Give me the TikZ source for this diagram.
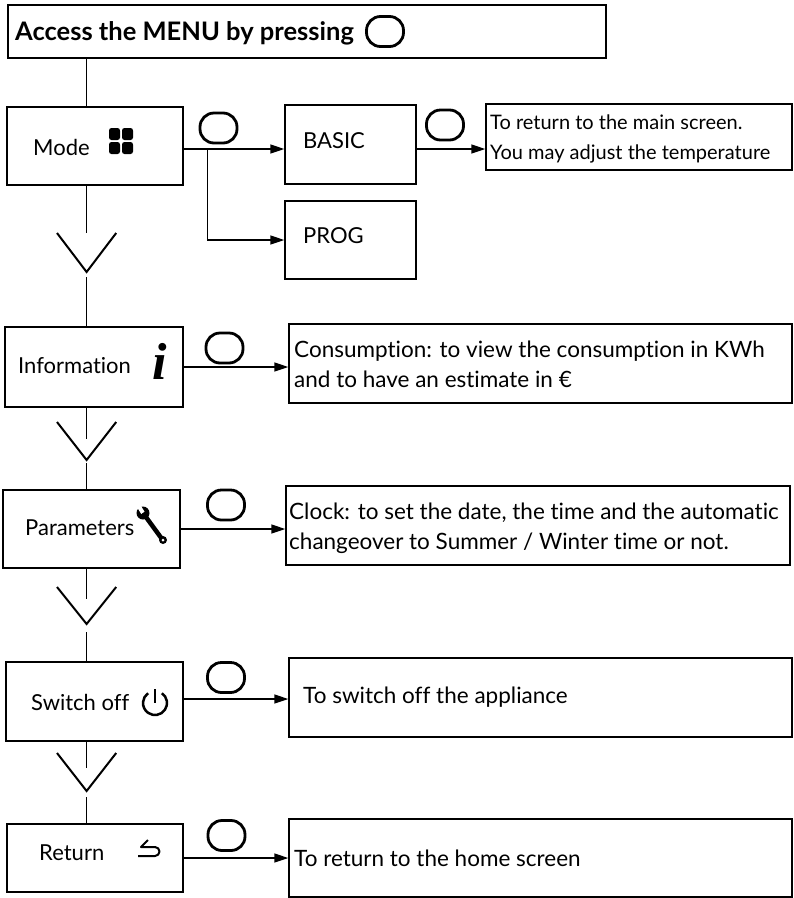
\documentclass[tikz,border=0pt]{standalone}
\usepackage{fontspec}
\setmainfont{Lato}[Ligatures=NoCommon]
\newfontfamily\iconfont{Liberation Serif}
\usetikzlibrary{arrows.meta}

\tikzset{
  menubox/.style={draw, line width=1.4pt, inner sep=0pt},
  button/.style={draw, line width=2.8pt, rounded corners=14pt, minimum width=37pt, minimum height=30pt, inner sep=0pt},
  txt/.style={inner sep=0pt, font=\fontsize{22}{26}\selectfont},
  dtxt/.style={inner sep=0pt, align=left, font=\fontsize{22.5}{30}\selectfont},
  flow/.style={line width=1.4pt},
  arr/.style={-{Triangle[length=14pt,width=9pt]}, line width=1.4pt},
  chevron/.style={line width=2pt},
}

\begin{document}
\begin{tikzpicture}[x=1pt,y=-1pt]
\useasboundingbox (0,0) rectangle (794,898);
% header
\node[menubox, line width=2.8pt, minimum width=598pt, minimum height=53pt] (header) at (307,31.5) {};
\node[txt, font=\bfseries\fontsize{25.5}{30}\selectfont, anchor=base west] (headtxt) at (15,40) {Access the MENU by pressing};
\node[button] (b0) at (385,31.5) {};
% mode
\node[menubox, minimum width=176pt, minimum height=78pt] (mode) at (95,146) {};
\node[txt, anchor=base west] (modetxt) at (33,155) {Mode};
\foreach \x in {109,122}
  \foreach \y in {128,142}
    \fill[rounded corners=2.5pt] (\x,\y) rectangle ++(11,12);
\node[menubox, minimum width=131pt, minimum height=79pt] (basic) at (350.5,144.5) {};
\node[txt, anchor=base west] (basictxt) at (303,148) {BASIC};
\node[menubox, minimum width=131pt, minimum height=78pt] (prog) at (350.5,240) {};
\node[txt, anchor=base west] (progtxt) at (303,243) {PROG};
\node[menubox, minimum width=306pt, minimum height=66pt] (retmain) at (639,137) {};
\node[dtxt, font=\fontsize{20}{30}\selectfont, anchor=base west] (retmaintxt) at (490,159) {To return to the main screen.\\You may adjust the temperature};
\node[button] (b1) at (218.5,128) {};
\node[button] (b2) at (445,125) {};
\coordinate (split) at (207.5,149);
\draw[flow] (mode.east |- split) -- (split);
\draw[arr] (split) -- (split -| basic.west);
\draw[arr] (split) |- (prog.west);
\draw[arr] (basic.east |- split) -- (split -| retmain.west);
% information
\node[menubox, minimum width=178pt, minimum height=80pt] (info) at (94,367) {};
\node[txt, anchor=base west] (infotxt) at (18,373) {Information};
\node[inner sep=0pt, anchor=base, font=\iconfont\bfseries\itshape\fontsize{52}{52}\selectfont] (infoicon) at (160,379) {i};
\node[menubox, minimum width=503pt, minimum height=79pt] (consum) at (540.5,363.5) {};
\node[dtxt, anchor=base west] (consumtxt) at (294,387) {Consumption: to view the consumption in KWh\\and to have an estimate in €};
\node[button] (b3) at (224.5,348) {};
\draw[arr] (info.east) -- (info.east -| consum.west);
% parameters
\node[menubox, minimum width=177pt, minimum height=78pt] (param) at (91.5,529) {};
\node[txt, anchor=base west] (paramtxt) at (25,535) {Parameters};
\fill (143,513) circle (6.5);
\draw[white, line width=4pt] (143,513) -- ++(-5,-8);
\draw[line width=4.5pt] (143,513) -- (162,539);
\fill (163,540) circle (4);
\fill[white] (163,540) circle (1.5);
\node[menubox, minimum width=504pt, minimum height=79pt] (clock) at (538,525.5) {};
\node[dtxt, anchor=base west] (clocktxt) at (289,549) {Clock: to set the date, the time and the automatic\\changeover to Summer / Winter time or not.};
\node[button] (b4) at (226,505) {};
\draw[arr] (param.east) -- (param.east -| clock.west);
% switch off
\node[menubox, minimum width=177pt, minimum height=79pt] (switch) at (94.5,701.5) {};
\node[txt, anchor=base west] (switchtxt) at (31,710) {Switch off};
\draw[line width=2.5pt] (155,689) -- (155,703);
\draw[line width=2.5pt] (155,703) ++(-55:12) arc[start angle=-55, end angle=235, radius=12];
\node[menubox, minimum width=503pt, minimum height=79pt] (switchd) at (540.5,697.5) {};
\node[dtxt, anchor=base west] (switchdtxt) at (303,703) {To switch off the appliance};
\node[button] (b5) at (226,677.5) {};
\coordinate (swline) at (120,699);
\draw[arr] (switch.east |- swline) -- (swline -| switchd.west);
% return
\node[menubox, minimum width=176pt, minimum height=68pt] (ret) at (95,858) {};
\node[txt, anchor=base west] (rettxt) at (39,860) {Return};
\draw[line width=2pt, line join=round] (148,840) -- (141,847) -- (155,847) arc[start angle=-90, end angle=90, radius=4.5] -- (138,856);
\node[menubox, minimum width=503pt, minimum height=78pt] (home) at (540.5,858) {};
\node[dtxt, anchor=base west] (hometxt) at (294,866) {To return to the home screen};
\node[button] (b6) at (226.5,835.5) {};
\draw[arr] (ret.east) -- (ret.east -| home.west);
% spine with chevrons
\coordinate (tip1) at (86.6,272);
\coordinate (tip2) at (86.6,460);
\coordinate (tip3) at (86.6,624);
\coordinate (tip4) at (86.6,791);
\draw[flow] (header.south -| tip1) -- (mode.north -| tip1);
\draw[flow] (mode.south -| tip1) -- ++(0,47);
\draw[chevron] (tip1) ++(-29.6,-39) -- (tip1) -- ++(29.6,-39);
\draw[flow] (tip1) ++(0,5) -- (info.north -| tip1);
\draw[flow] (info.south -| tip1) -- ++(0,31);
\draw[chevron] (tip2) ++(-29.6,-38) -- (tip2) -- ++(29.6,-38);
\draw[flow] (tip2) ++(0,3) -- (param.north -| tip2);
\draw[flow] (param.south -| tip3) -- ++(0,30);
\draw[chevron] (tip3) ++(-29.6,-37) -- (tip3) -- ++(29.6,-37);
\draw[flow] (tip3) ++(0,8) -- (switch.north -| tip3);
\draw[flow] (switch.south -| tip4) -- ++(0,26);
\draw[chevron] (tip4) ++(-29.6,-38) -- (tip4) -- ++(29.6,-38);
\draw[flow] (tip4) ++(0,6) -- (ret.north -| tip4);
\end{tikzpicture}
\end{document}
